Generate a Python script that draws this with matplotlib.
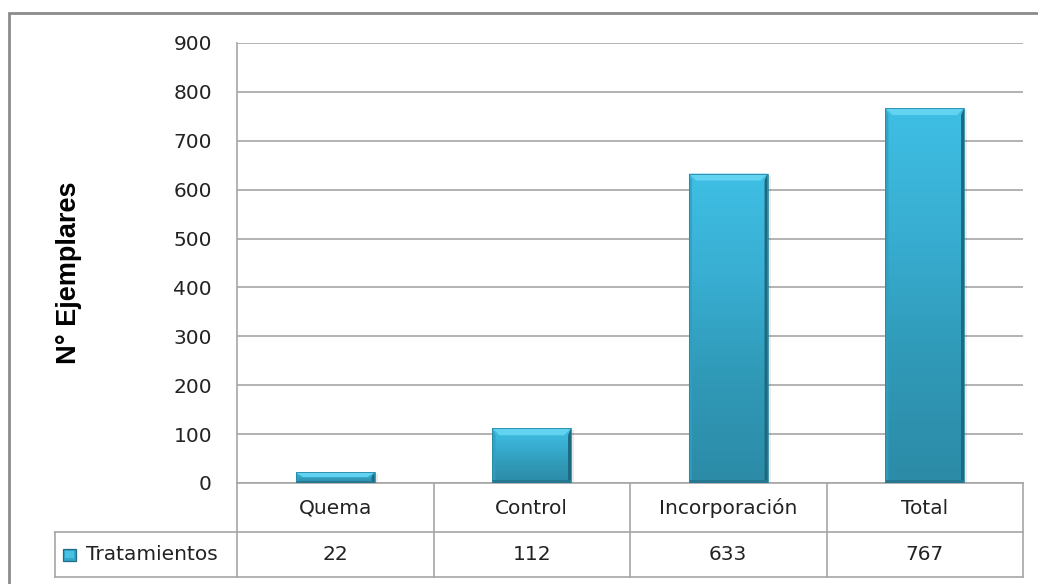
import numpy as np
import matplotlib.pyplot as plt
from matplotlib.patches import Rectangle, Polygon
from matplotlib.lines import Line2D
from matplotlib.colors import LinearSegmentedColormap

categories = ['Quema', 'Control', 'Incorporación', 'Total']
values = [22, 112, 633, 767]
series_name = 'Tratamientos'
y_ticks = [0, 100, 200, 300, 400, 500, 600, 700, 800, 900]
y_label = 'N° Ejemplares'

W, H = 1038, 584
fig = plt.figure(figsize=(W / 100, H / 100), dpi=100)

# plot area in pixels: x 237..1023, y 43..483
L, R, T, B = 237, 1023, 43, 483
ax = fig.add_axes([L / W, 1 - B / H, (R - L) / W, (B - T) / H])

grid_c = '#a6a6a6'
n = len(categories)
ax.set_xlim(-0.5, n - 0.5)
ax.set_ylim(0, 900)
ax.set_yticks(y_ticks)
ax.set_yticklabels([str(v) for v in y_ticks], fontsize=14.5, family='DejaVu Sans', color='#222222')
ax.tick_params(axis='y', length=0, pad=18)
ax.set_xticks([])
ax.yaxis.grid(True, color=grid_c, linewidth=1.2)
ax.set_axisbelow(True)
for s in ['top', 'right', 'bottom']:
    ax.spines[s].set_visible(False)
ax.spines['left'].set_color(grid_c)
ax.spines['left'].set_linewidth(1.2)

# pixel sizes in data units
px_x = n / (R - L)
px_y = 900 / (B - T)

cmap = LinearSegmentedColormap.from_list('barfill', ['#2c8ba7', '#3099b7', '#38aed2', '#3fbfe4'])
bars = ax.bar(range(n), values, width=0.4, color='#38b2d8', edgecolor='none', zorder=2)
for b in bars:
    x0, w, h = b.get_x(), b.get_width(), b.get_height()
    grad = np.linspace(0, 1, 256).reshape(-1, 1)
    im = ax.imshow(grad, cmap=cmap, aspect='auto', origin='lower',
                   extent=[x0, x0 + w, 0, h], zorder=3)
    im.set_clip_path(b)
    # soft shadow on the right
    ax.add_patch(Rectangle((x0 + w, 0), 3 * px_x, h - 2 * px_y, facecolor='#000000',
                           alpha=0.08, edgecolor='none', zorder=2))
    bev = min(7 * px_y, h * 0.45)
    bx = 7 * px_x
    # top bevel (light)
    ax.add_patch(Polygon([(x0, h), (x0 + w, h), (x0 + w - bx, h - bev), (x0 + bx, h - bev)],
                         closed=True, facecolor='#62d3f1', edgecolor='none', zorder=4))
    # left edge
    ax.add_patch(Polygon([(x0, 0), (x0, h), (x0 + 3 * px_x, h - bev), (x0 + 3 * px_x, 0)],
                         closed=True, facecolor='#2f9fc0', edgecolor='none', alpha=0.8, zorder=4))
    # right edge (dark)
    ax.add_patch(Polygon([(x0 + w, 0), (x0 + w, h), (x0 + w - 3 * px_x, h - bev),
                          (x0 + w - 3 * px_x, 0)],
                         closed=True, facecolor='#1d6a80', edgecolor='none', zorder=4))
    # bottom edge
    ax.add_patch(Rectangle((x0, 0), w, min(3 * px_y, h * 0.2), facecolor='#257890',
                           edgecolor='none', zorder=4))
    ax.add_patch(Rectangle((x0, 0), w, h, facecolor='none', edgecolor='#2a88a3',
                           linewidth=0.6, zorder=5))

# data table below the plot
tr = ax.get_xaxis_transform()
row1 = -49 / (B - T)
row2 = -94 / (B - T)
xl = -0.5 + (55 - L) * px_x
lc = dict(color=grid_c, linewidth=1.2, clip_on=False, transform=tr)
ax.add_line(Line2D([-0.5, n - 0.5], [0, 0], **lc))
ax.add_line(Line2D([xl, n - 0.5], [row1, row1], **lc))
ax.add_line(Line2D([xl, n - 0.5], [row2, row2], **lc))
ax.add_line(Line2D([xl, xl], [row1, row2], **lc))
for i in range(n + 1):
    ax.add_line(Line2D([i - 0.5, i - 0.5], [0, row2], **lc))

tfont = dict(family='DejaVu Sans', fontsize=14.5, color='#222222')
for i, (c, v) in enumerate(zip(categories, values)):
    ax.text(i, row1 / 2 - 1 / (B - T), c, transform=tr, ha='center', va='center', **tfont)
    ax.text(i, (row1 + row2) / 2, str(v), transform=tr, ha='center', va='center', **tfont)

# legend key in table
ymid = (row1 + row2) / 2
key_x = -0.5 + (63 - L) * px_x
key_w = 13 * px_x
key_h = 12 / (B - T)
ax.add_patch(Rectangle((key_x, ymid - key_h / 2), key_w, key_h, transform=tr,
                       facecolor='#34a6c8', edgecolor='#1f6e85', linewidth=0.9, clip_on=False))
ax.add_patch(Rectangle((key_x + 2 * px_x, ymid - key_h / 2 + 3 / (B - T)), key_w - 4 * px_x,
                       key_h - 5 / (B - T), transform=tr, facecolor='#45c2e6',
                       edgecolor='none', clip_on=False))
ax.text(-0.5 + (86 - L) * px_x, ymid, series_name, transform=tr,
        ha='left', va='center', **tfont)

fig.text(69 / W, 1 - 273 / H, y_label, rotation=90, ha='center', va='center',
         fontsize=19.5, fontweight='bold', family='Liberation Sans')

# outer chart border
fig.patches.append(Rectangle((9 / W, -0.1), 1.2, 1 - 13 / H + 0.1, transform=fig.transFigure,
                             facecolor='none', edgecolor='#8c8c8c', linewidth=2))

fig.savefig('out.png', dpi=100)
